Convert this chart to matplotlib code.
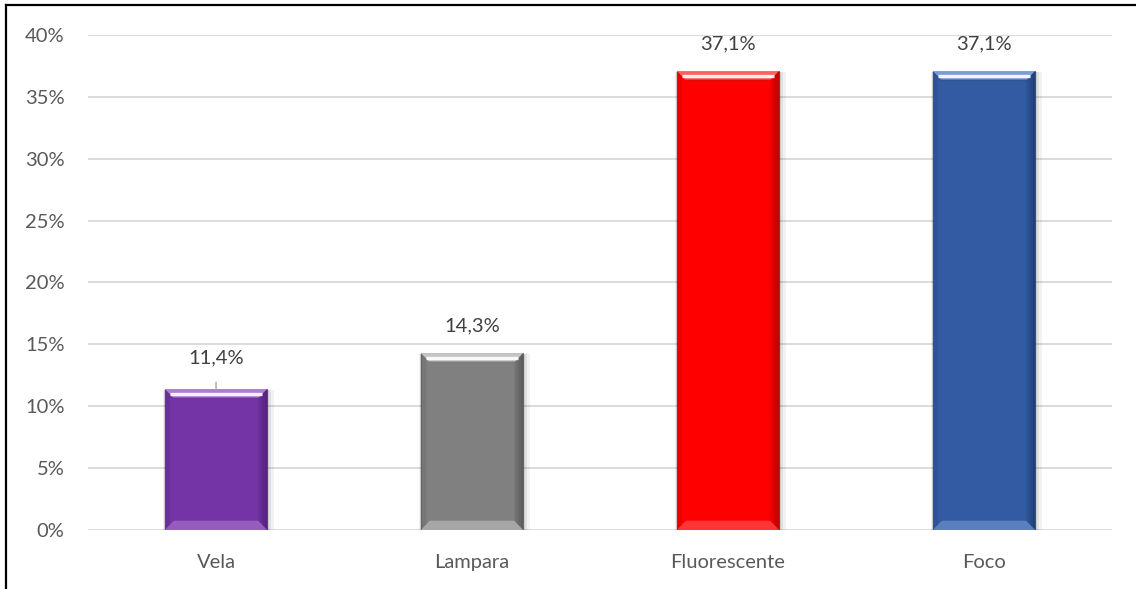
import matplotlib.pyplot as plt
from matplotlib.patches import Polygon
from matplotlib.lines import Line2D
from matplotlib.ticker import FuncFormatter
import numpy as np

categories = ["Vela", "Lampara", "Fluorescente", "Foco"]
values = [11.4, 14.3, 37.1, 37.1]
labels = ["11,4%", "14,3%", "37,1%", "37,1%"]
colors = ["#7434a6", "#808080", "#ff0000", "#325ba4"]
light = ["#e2b8f5", "#ffffff", "#ffb0b0", "#b8d4ff"]
dark = ["#3e1660", "#404040", "#8a0000", "#162c55"]

plt.rcParams["font.family"] = ["Lato", "DejaVu Sans"]

fig = plt.figure(figsize=(11.36, 5.89), dpi=100)
ax = fig.add_axes([0.0775, 0.1002, 0.9014, 0.8404])

x = np.arange(len(categories))
w = 0.4
bx = 0.035   # bevel width (x units)
by = 0.75    # bevel height (data units)

for i, v in enumerate(values):
    l, r = x[i] - w / 2, x[i] + w / 2
    # soft shadow
    for k, a in [(0.025, 0.05), (0.015, 0.07), (0.008, 0.09)]:
        ax.add_patch(Polygon([(l - k / 3, -0.35), (r + k, -0.35), (r + k, v - 0.1), (l - k / 3, v - 0.1)],
                             closed=True, facecolor="#000000", alpha=a, lw=0, zorder=2))
    ax.bar(x[i], v, w, color=colors[i], zorder=3, edgecolor=dark[i], linewidth=0.4)
    # top bevel
    ax.add_patch(Polygon([(l, v), (r, v), (r - bx, v - by), (l + bx, v - by)],
                         closed=True, facecolor=light[i], alpha=0.55, lw=0, zorder=4))
    # darker lower edge of the top bevel
    ax.plot([l + bx, r - bx], [v - by] * 2, color=dark[i], alpha=0.35, lw=1.2, zorder=5)
    # bright line in the top bevel
    ax.plot([l + bx * 0.55, r - bx * 0.55], [v - by * 0.5] * 2, color="white", alpha=0.9,
            lw=2.4, solid_capstyle="butt", zorder=5)
    # bottom bevel
    ax.add_patch(Polygon([(l, 0), (r, 0), (r - bx, by), (l + bx, by)],
                         closed=True, facecolor=light[i], alpha=0.3, lw=0, zorder=4))
    # right bevel (shade), built from a few steps for a gradient look
    for k in range(4):
        f = (k + 1) / 4
        ax.add_patch(Polygon([(r, 0), (r, v), (r - bx * f, v - by * f), (r - bx * f, by * f)],
                             closed=True, facecolor=dark[i], alpha=0.16, lw=0, zorder=4))
    # left bevel
    ax.add_patch(Polygon([(l, 0), (l, v), (l + bx * 0.6, v - by * 0.6), (l + bx * 0.6, by * 0.6)],
                         closed=True, facecolor=dark[i], alpha=0.15, lw=0, zorder=4))

for i, v in enumerate(values):
    if i == 0:
        ax.annotate(labels[i], xy=(x[i], v), xytext=(0, 22), textcoords="offset points",
                    ha="center", va="center", fontsize=14.5, color="#404040",
                    arrowprops=dict(arrowstyle="-", color="#a6a6a6", lw=1, shrinkA=9, shrinkB=0))
    else:
        ax.annotate(labels[i], xy=(x[i], v), xytext=(0, 19.5), textcoords="offset points",
                    ha="center", va="center", fontsize=14.5, color="#404040")

ax.set_xlim(-0.5, len(categories) - 0.5)
ax.set_ylim(0, 40)
ax.set_yticks(np.arange(0, 41, 5))
ax.yaxis.set_major_formatter(FuncFormatter(lambda v, p: f"{v:.0f}%"))
ax.set_xticks(x)
ax.set_xticklabels(categories)
ax.tick_params(axis="both", length=0, labelsize=14.5, labelcolor="#595959")
ax.tick_params(axis="y", pad=17)
ax.tick_params(axis="x", pad=17)
ax.grid(axis="y", color="#d9d9d9", linewidth=1.3, zorder=0)
ax.set_axisbelow(True)
for s in ax.spines.values():
    s.set_visible(False)

# outer chart frame (only top and left visible)
fig.add_artist(Line2D([6 / 1136, 1], [1 - 5 / 589, 1 - 5 / 589], color="black", lw=1.6))
fig.add_artist(Line2D([6 / 1136, 6 / 1136], [0, 1 - 5 / 589], color="black", lw=1.6))

fig.savefig("out.png", dpi=100)
